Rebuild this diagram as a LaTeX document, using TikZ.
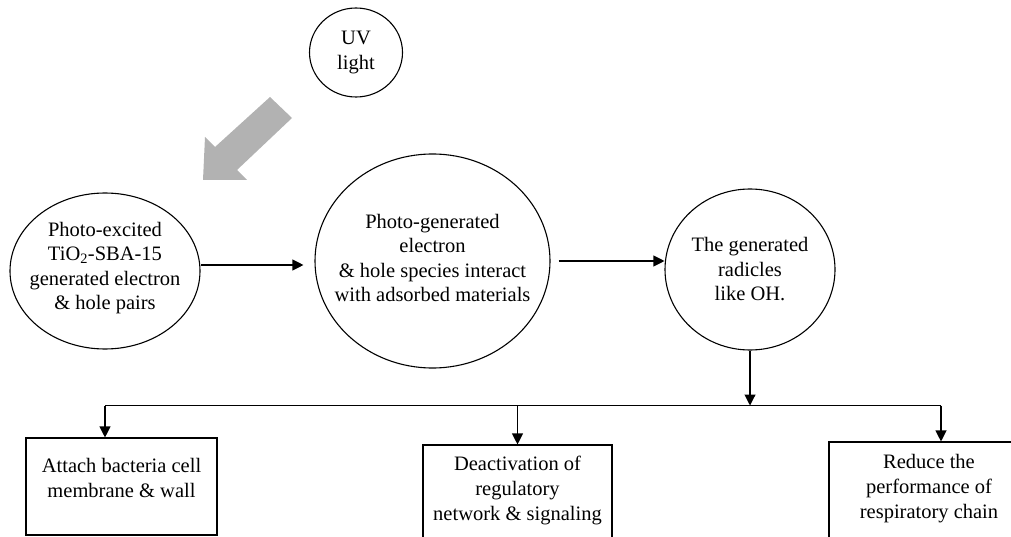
\documentclass[tikz,border=0pt]{standalone}
\usepackage{fontspec}
\setmainfont{Liberation Serif}
\usetikzlibrary{shapes.geometric,arrows.meta}
\tikzset{
  bubble/.style={ellipse,draw,line width=1.1pt,inner sep=0pt},
  bubbletext/.style={align=center,inner sep=0pt,
    font=\fontsize{20.5}{24.5}\selectfont},
  boxshape/.style={rectangle,draw,line width=1.1pt,inner sep=0pt},
  boxtext/.style={anchor=north,align=center,inner sep=0pt,
    font=\fontsize{20.5}{25}\selectfont},
  arr/.style={line width=1.1pt,-{Triangle[width=11pt,length=11pt]}},
  link/.style={line width=1.1pt}
}
\begin{document}
\begin{tikzpicture}[x=1pt,y=-1pt]
\useasboundingbox (0,0) rectangle (1011,537);
% UV light
\node[bubble,minimum width=93pt,minimum height=89pt] (uv) at (356,52.5) {};
\node[bubbletext] (uvt) at (uv) {UV\\light};
% big grey arrow
\fill[gray!60] (203,180) -- (205,137) -- (215,147) -- (270,97) -- (292,118) -- (237,170) -- (247,180) -- cycle;
% ellipses
\node[bubble,minimum width=190pt,minimum height=156pt] (e1) at (105,271) {};
\node[bubbletext] (e1t) at ([yshift=3pt]e1.center)
  {Photo-excited\\TiO\textsubscript{2}-SBA-15\\generated electron\\\& hole pairs};
\node[bubble,minimum width=235pt,minimum height=214pt] (e2) at (432.5,261) {};
\node[bubbletext] (e2t) at ([yshift=3pt]e2.center)
  {Photo-generated\\electron\\\& hole species interact\\with adsorbed materials};
\node[bubble,minimum width=170pt,minimum height=161pt] (e3) at (750,269.5) {};
\node[bubbletext] (e3t) at (e3.center) {The generated\\radicles\\like OH.};
% boxes
\node[boxshape,minimum width=191pt,minimum height=97pt] (b1) at (121.5,486.5) {};
\node[boxtext] (t1) at ([yshift=-21pt]b1.north) {Attach bacteria cell\\membrane \& wall};
\node[boxshape,minimum width=189pt,minimum height=120pt] (b2) at (517.5,505) {};
\node[boxtext] (t2) at ([yshift=-11pt]b2.north) {Deactivation of\\regulatory\\network \& signaling};
\node[boxshape,minimum width=200pt,minimum height=120pt] (b3) at (929,502) {};
\node[boxtext] (t3) at ([yshift=-13pt]b3.north) {Reduce the\\performance of\\respiratory chain};
% connectors
\coordinate (a1) at ([yshift=6pt]e1.east);
\draw[arr,shorten >=11pt] (a1) -- (a1 -| e2.west);
\draw[arr,shorten <=8pt] (e2.east) -- (e2.east -| e3.west);
\coordinate (busL) at (105,405.5);
\coordinate (busR) at (941,405.5);
\draw[arr] (e3.south) -- (e3.south |- busL);
\draw[link] (busL) -- (busR);
\draw[arr] (busL) -- (busL |- b1.north);
\draw[arr] (b2.north |- busL) -- (b2.north);
\draw[arr] (busR) -- (busR |- b3.north);
\end{tikzpicture}
\end{document}
